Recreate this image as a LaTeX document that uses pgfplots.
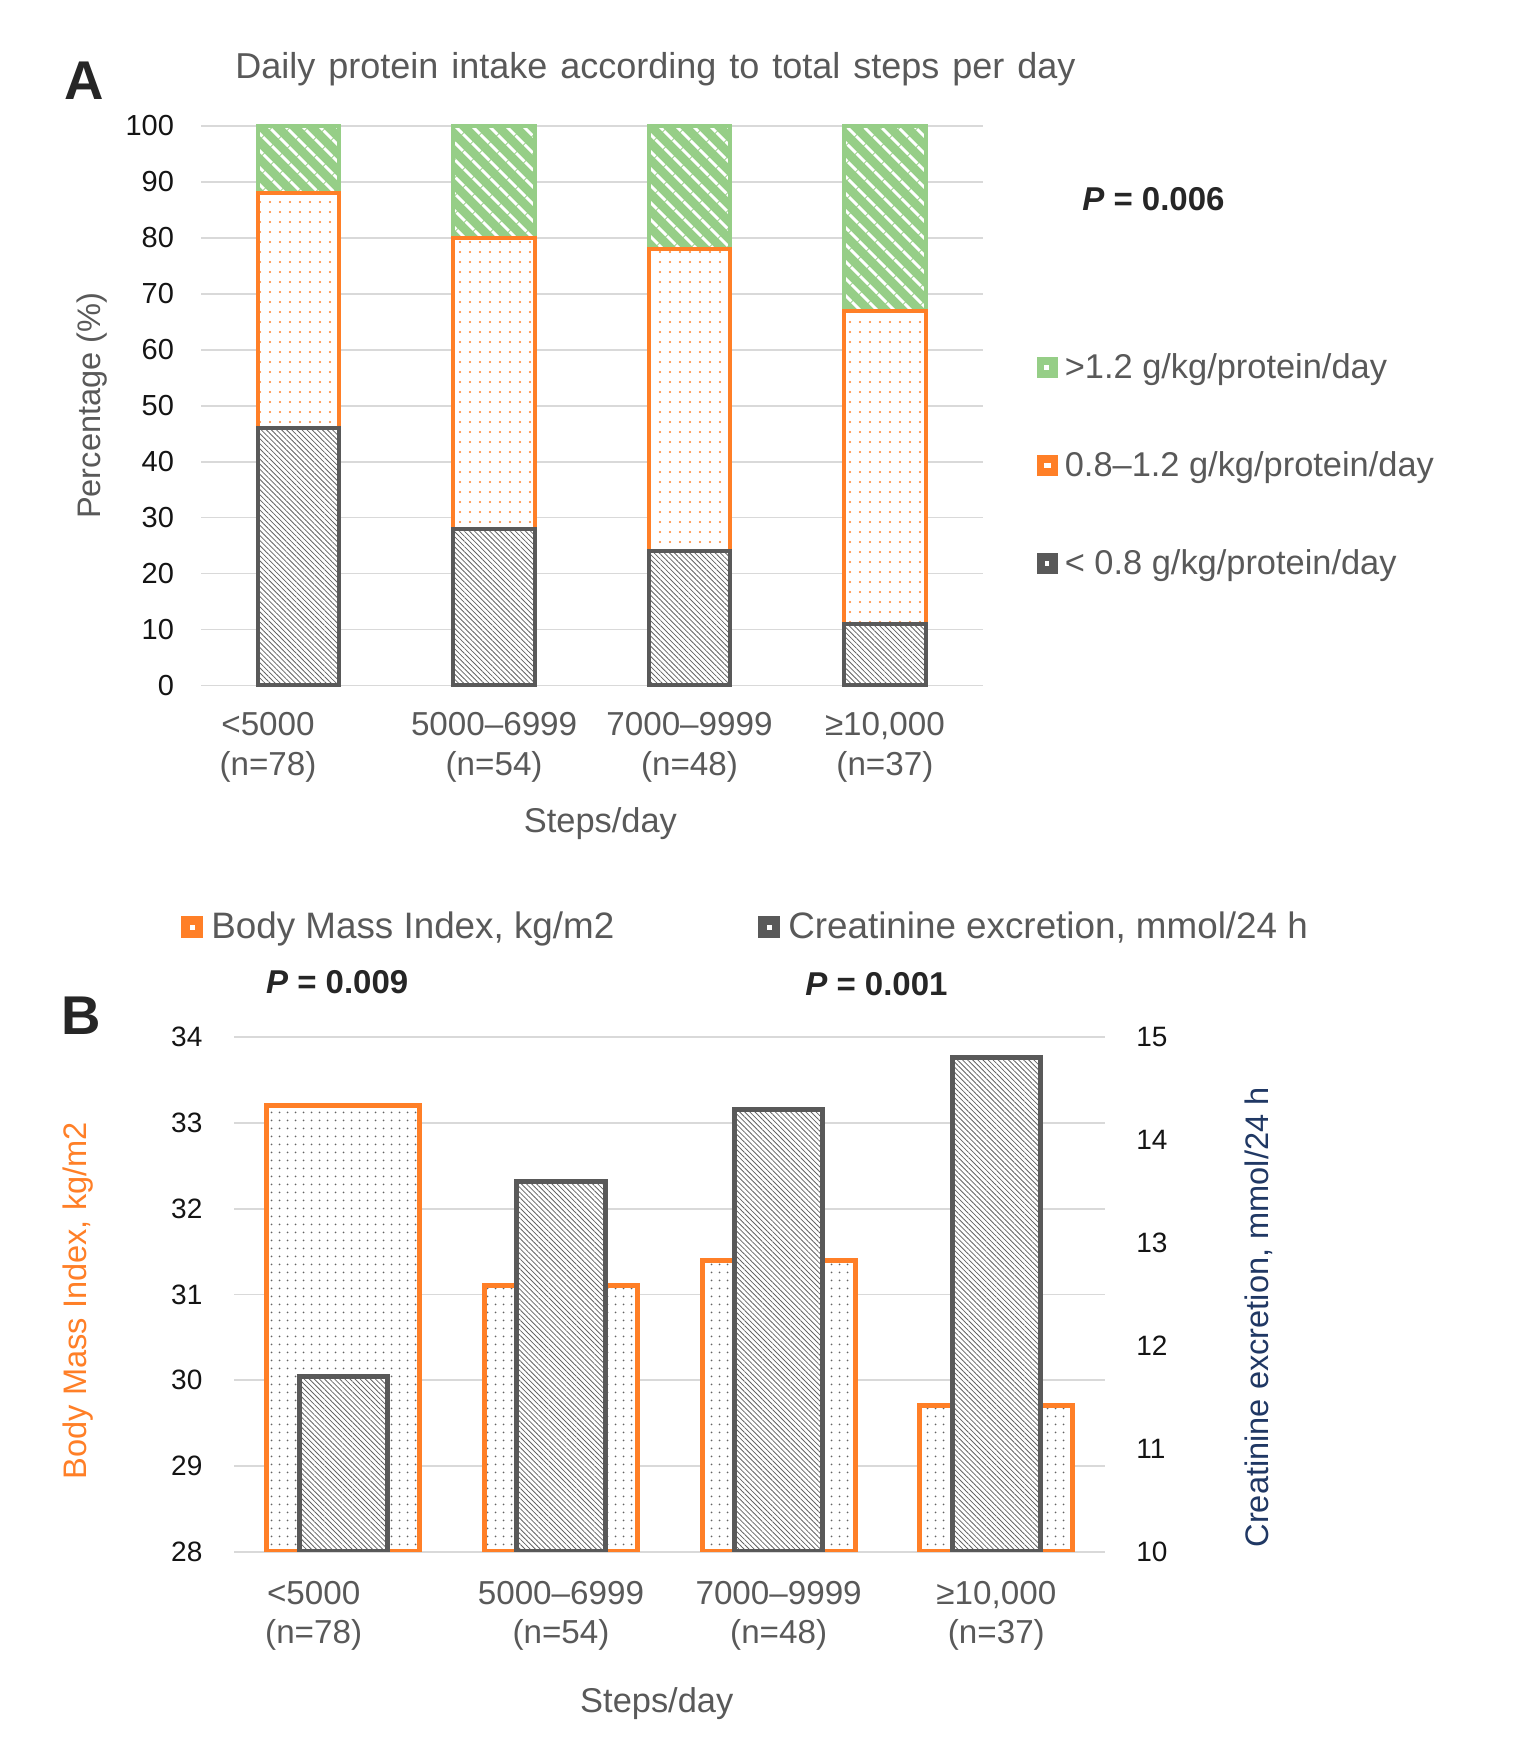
\documentclass[border=0pt]{standalone}
\usepackage{fontspec}
\setmainfont{Liberation Sans}
\usepackage{pgfplots}
\pgfplotsset{compat=1.18}
\usetikzlibrary{patterns.meta}
\definecolor{txtgray}{RGB}{89,89,89}
\definecolor{orangeC}{RGB}{255,127,39}
\definecolor{greenC}{RGB}{150,206,135}
\definecolor{darkC}{RGB}{89,89,89}
\definecolor{patC}{RGB}{100,100,100}
\definecolor{gridC}{RGB}{217,217,217}
\definecolor{navyC}{RGB}{32,56,100}
\definecolor{tickC}{RGB}{20,20,20}
\begin{document}
\begin{tikzpicture}
\path[use as bounding box] (0pt,0pt) rectangle (766.5pt,-876pt);

% ---------------- Panel A ----------------
\begin{axis}[
  at={(100.5pt,-342.7pt)}, anchor=south west,
  scale only axis, width=390.8pt, height=279.7pt,
  ybar stacked, bar width=40.7pt, clip=false,
  xmin=-0.5, xmax=3.5, ymin=0, ymax=100,
  ytick={0,10,...,100},
  xtick={-0.157,1,2,3},
  xticklabels={{<5000\\(n=78)},{5000–6999\\(n=54)},{7000–9999\\(n=48)},{≥10,000\\(n=37)}},
  axis line style={draw=none}, major tick length=0pt,
  ymajorgrids, grid style={color=gridC, line width=0.9pt},
  /pgf/number format/assume math mode=true,
  y tick label style={font=\fontsize{14.5}{16}\selectfont, text=tickC, xshift=-10pt},
  x tick label style={align=center, text=txtgray, font=\fontsize{16.6}{20}\selectfont, yshift=-10pt},
  ylabel={Percentage (\%)},
  ylabel style={at={(axis description cs:-0.14,0.5)}, anchor=center, text=txtgray, font=\fontsize{16.3}{19}\selectfont},
  xlabel={Steps/day},
  xlabel style={at={(axis description cs:0.511,-0.2475)}, anchor=center, text=txtgray, font=\fontsize{17.2}{20}\selectfont},
  legend style={at={(axis description cs:1.0686,0.597)}, anchor=north west, draw=none, fill=none,
    inner sep=0pt, row sep=33pt, font=\fontsize{17.2}{20}\selectfont, text=txtgray, nodes={inner sep=1pt}},
  reverse legend, legend cell align=left,
]
\addplot[preaction={fill=white}, pattern={Lines[angle=-45,distance=1.8pt,line width=0.4pt]}, pattern color=patC,
  draw=darkC, line width=2pt,
  legend image code/.code={\path[draw=none, fill=darkC] (0pt,-4.3pt) rectangle (8.6pt,4.3pt); \path[draw=none, fill=white] (3.3pt,-1.1pt) rectangle (5.3pt,1.1pt);}]
  coordinates {(0,46) (1,28) (2,24) (3,11)};
\addlegendentry{\hspace{2.5pt}< 0.8 g/kg/protein/day}
\addplot[preaction={fill=white}, pattern={Dots[distance=5pt,radius=0.55pt]}, pattern color=orangeC,
  draw=orangeC, line width=2pt,
  legend image code/.code={\path[draw=none, fill=orangeC] (0pt,-4.3pt) rectangle (8.6pt,4.3pt); \path[draw=none, fill=white] (2.6pt,-1.3pt) rectangle (6pt,1.3pt);}]
  coordinates {(0,42) (1,52) (2,54) (3,56)};
\addlegendentry{\hspace{2.5pt}0.8–1.2 g/kg/protein/day}
\addplot[preaction={fill=greenC}, pattern={Lines[angle=-45,distance=6.5pt,line width=1.6pt]}, pattern color=white,
  draw=greenC, line width=2pt,
  legend image code/.code={\path[draw=none, fill=greenC] (0pt,-4.3pt) rectangle (8.6pt,4.3pt); \path[draw=none, fill=white] (2.6pt,-1.3pt) rectangle (5.4pt,1.3pt);}]
  coordinates {(0,12) (1,20) (2,22) (3,33)};
\addlegendentry{\hspace{2.5pt}>1.2 g/kg/protein/day}
\end{axis}

\node[font=\fontsize{27.3}{30}\selectfont\bfseries, text=black!85] at (41.9pt,-40.2pt) {A};
\node[font=\fontsize{18}{21}\selectfont, text=txtgray] at (327.7pt,-34.6pt) {\spaceskip=0.36em plus 0.1em Daily protein intake according to total steps per day};
\node[font=\fontsize{16.5}{19}\selectfont\bfseries, text=black!85] at (576.7pt,-99.4pt) {\textit{P} = 0.006};

% ---------------- Panel B ----------------
\begin{axis}[
  at={(117.2pt,-775.9pt)}, anchor=south west,
  scale only axis, width=435.4pt, height=257.4pt,
  ybar, bar width=76.5pt, bar shift=0pt,
  xmin=-0.5, xmax=3.5, ymin=28, ymax=34,
  ytick={28,...,34},
  xtick={-0.136,1,2,3},
  xticklabels={{<5000\\(n=78)},{5000–6999\\(n=54)},{7000–9999\\(n=48)},{≥10,000\\(n=37)}},
  axis line style={draw=none}, major tick length=0pt,
  ymajorgrids, grid style={color=gridC, line width=0.9pt},
  /pgf/number format/assume math mode=true,
  y tick label style={font=\fontsize{14}{16}\selectfont, text=tickC, xshift=-12.5pt},
  x tick label style={align=center, text=txtgray, font=\fontsize{16.6}{19.6}\selectfont, yshift=-11pt},
  ylabel={Body Mass Index, kg/m2},
  ylabel style={at={(axis description cs:-0.179,0.488)}, anchor=center, text=orangeC, font=\fontsize{16.3}{19}\selectfont},
  xlabel={Steps/day},
  xlabel style={at={(axis description cs:0.485,-0.295)}, anchor=center, text=txtgray, font=\fontsize{17.2}{20}\selectfont},
  legend style={at={(axis description cs:-0.0616,1.247)}, anchor=north west, draw=none, fill=none,
    inner sep=0pt, font=\fontsize{18.4}{21}\selectfont, text=txtgray, nodes={inner sep=1pt}},
]
\addplot[preaction={fill=white}, pattern={Dots[distance=4pt,radius=0.55pt]}, pattern color=patC,
  draw=orangeC, line width=2.5pt,
  legend image code/.code={\path[draw=none, fill=orangeC] (0pt,-4.3pt) rectangle (8.6pt,4.3pt); \path[draw=none, fill=white] (3.1pt,-1.3pt) rectangle (5.5pt,1.3pt);}]
  coordinates {(0,33.2) (1,31.1) (2,31.4) (3,29.7)};
\addlegendentry{\hspace{3pt}Body Mass Index, kg/m2}
\end{axis}

\begin{axis}[
  at={(117.2pt,-775.9pt)}, anchor=south west,
  scale only axis, width=435.4pt, height=257.4pt,
  ybar, bar width=44.1pt, bar shift=0pt,
  xmin=-0.5, xmax=3.5, ymin=10, ymax=15,
  ytick={10,...,15},
  axis y line*=right, hide x axis,
  axis line style={draw=none}, major tick length=0pt,
  /pgf/number format/assume math mode=true,
  y tick label style={font=\fontsize{14}{16}\selectfont, text=tickC, xshift=12pt},
  ylabel={Creatinine excretion, mmol/24 h},
  ylabel style={at={(axis description cs:1.176,0.4555)}, anchor=center, text=navyC, font=\fontsize{16.3}{19}\selectfont},
  legend style={at={(axis description cs:0.601,1.247)}, anchor=north west, draw=none, fill=none,
    inner sep=0pt, font=\fontsize{18.4}{21}\selectfont, text=txtgray, nodes={inner sep=1pt}},
]
\addplot[preaction={fill=white}, pattern={Lines[angle=-45,distance=1.8pt,line width=0.4pt]}, pattern color=patC,
  draw=darkC, line width=2.5pt,
  legend image code/.code={\path[draw=none, fill=darkC] (0pt,-4.3pt) rectangle (8.6pt,4.3pt); \path[draw=none, fill=white] (3.1pt,-1.3pt) rectangle (5.5pt,1.3pt);}]
  coordinates {(0,11.7) (1,13.6) (2,14.3) (3,14.8)};
\addlegendentry{\hspace{3pt}Creatinine excretion, mmol/24 h}
\end{axis}

\node[font=\fontsize{27.3}{30}\selectfont\bfseries, text=black!85] at (40.7pt,-508.0pt) {B};
\node[font=\fontsize{16.5}{19}\selectfont\bfseries, text=black!85] at (168.6pt,-491.2pt) {\textit{P} = 0.009};
\node[font=\fontsize{16.5}{19}\selectfont\bfseries, text=black!85] at (438.2pt,-492.3pt) {\textit{P} = 0.001};
\end{tikzpicture}
\end{document}
